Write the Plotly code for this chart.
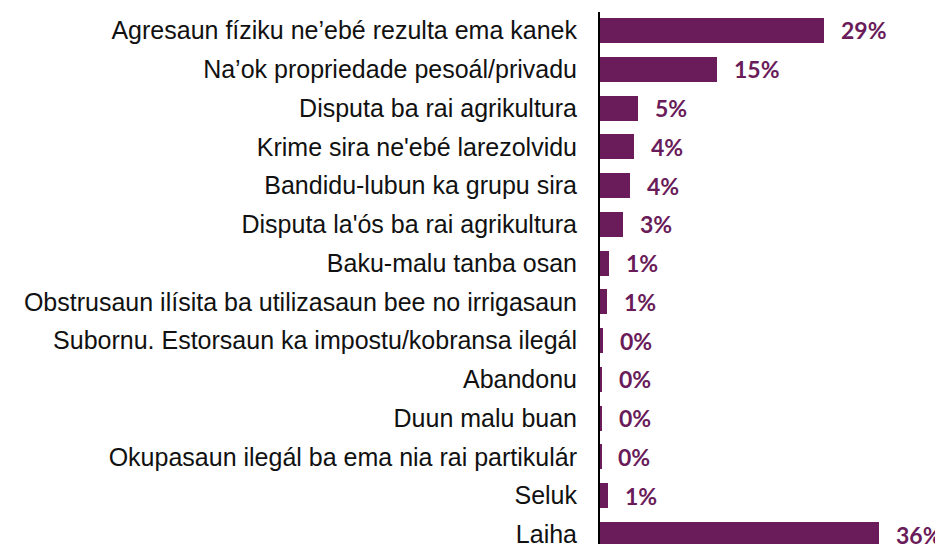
import plotly.graph_objects as go

categories = [
    "Agresaun fíziku ne’ebé rezulta ema kanek",
    "Na’ok propriedade pesoál/privadu",
    "Disputa ba rai agrikultura",
    "Krime sira ne'ebé larezolvidu",
    "Bandidu-lubun ka grupu sira",
    "Disputa la'ós ba rai agrikultura",
    "Baku-malu tanba osan",
    "Obstrusaun ilísita ba utilizasaun bee no irrigasaun",
    "Subornu. Estorsaun ka impostu/kobransa ilegál",
    "Abandonu",
    "Duun malu buan",
    "Okupasaun ilegál ba ema nia rai partikulár",
    "Seluk",
    "Laiha",
]
values = [29.0, 15.1, 4.87, 4.43, 3.88, 3.0, 1.16, 0.87, 0.43, 0.26, 0.2, 0.15, 1.0, 36.0]

purple = "#6A1B5A"

fig = go.Figure()
fig.add_trace(go.Bar(
    x=values, y=categories, orientation="h",
    marker=dict(color=purple, line=dict(width=0)),
    width=0.645, hoverinfo="skip",
))

for c, v in zip(categories, values):
    fig.add_annotation(
        x=v, y=c, xref="x", yref="y", text=f"{round(v)}%",
        showarrow=False, xanchor="left", yanchor="middle", xshift=15,
        font=dict(family="Lato", size=23, color=purple, weight="bold"),
    )

fig.update_layout(
    width=943, height=544,
    margin=dict(l=592, r=18, t=4, b=0),
    paper_bgcolor="white", plot_bgcolor="white",
    showlegend=False,
    bargap=0,
)
fig.update_xaxes(range=[0, 333 / 7.74], visible=False, showgrid=False, zeroline=False)
fig.update_yaxes(
    type="category", categoryorder="array", categoryarray=categories,
    range=[-0.477 + 540 / 38.77, -0.477], showgrid=False, zeroline=False,
    showline=True, linecolor="black", linewidth=2,
    ticks="", ticklabelstandoff=16,
    tickfont=dict(family="Liberation Sans", size=25, color="#111111"),
    automargin=False,
)

fig.write_html("out.html")
